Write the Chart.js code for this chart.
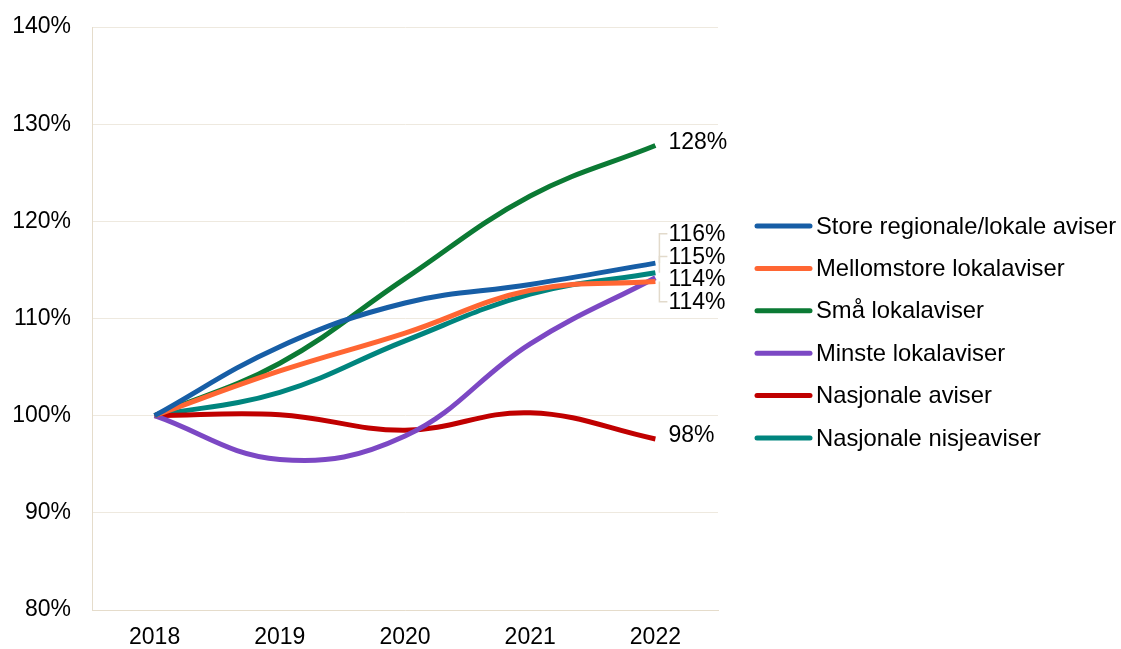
<!DOCTYPE html>
<html>
<head>
<meta charset="utf-8">
<script src="https://cdn.jsdelivr.net/npm/chart.js@4.4.1/dist/chart.umd.min.js"></script>
<style>
  html, body { margin: 0; padding: 0; background: #fff; }
  #wrap { width: 1121px; height: 649px; position: relative; }
</style>
</head>
<body>
<div id="wrap"><canvas id="chart"></canvas></div>
<script>
// data (index, 2018 = 100%)
var years = ["2018", "2019", "2020", "2021", "2022"];
var storeRegionale = [100, 107.1, 111.6, 113.5, 115.7];
var mellomstore = [100, 104.6, 108.5, 112.9, 113.8];
var smaa = [100, 105.4, 114.1, 122.6, 127.8];
var minste = [100, 95.5, 97.9, 107.4, 114.2];
var nasjonale = [100, 100.1, 98.5, 100.3, 97.6];
var nisje = [100, 102.4, 107.7, 112.5, 114.7];
var seriesNames = ["Store regionale/lokale aviser", "Mellomstore lokalaviser", "Små lokalaviser", "Minste lokalaviser", "Nasjonale aviser", "Nasjonale nisjeaviser"];
var colors = ["#175EA6", "#FF6633", "#0B7A34", "#7C48C4", "#C00000", "#00857E"];

var font = "Arial, 'Liberation Sans', sans-serif";
var allSeries = [storeRegionale, mellomstore, smaa, minste, nasjonale, nisje];
var datasets = [];
for (var i = 0; i < allSeries.length; i++) {
  datasets.push({
    label: seriesNames[i],
    data: allSeries[i],
    borderColor: colors[i],
    backgroundColor: colors[i],
    borderWidth: 5,
    pointRadius: 0,
    tension: 0.4,
    fill: false
  });
}

// end labels with leader lines + legend on the right
var extras = {
  id: "extras",
  afterDatasetsDraw: function(chart) {
    var ctx = chart.ctx;
    var items = [];
    chart.data.datasets.forEach(function(ds, i) {
      var meta = chart.getDatasetMeta(i);
      var pt = meta.data[meta.data.length - 1];
      var v = ds.data[ds.data.length - 1];
      items.push({ x: pt.x, y: pt.y, text: Math.round(v) + "%", ly: pt.y - 4 });
    });
    items.sort(function(a, b) { return a.y - b.y; });
    // group labels that sit too close together
    var groups = [];
    items.forEach(function(it) {
      var g = groups[groups.length - 1];
      if (g && it.y - g[g.length - 1].y < 22) g.push(it); else groups.push([it]);
    });
    var gap = 22.7;
    groups.forEach(function(g) {
      if (g.length < 2) return;
      var mean = 0;
      g.forEach(function(it) { mean += it.y; });
      mean = mean / g.length - 6;
      g.forEach(function(it, k) { it.ly = mean + (k - (g.length - 1) / 2) * gap; });
    });
    ctx.save();
    ctx.font = "23px " + font;
    ctx.textBaseline = "middle";
    ctx.textAlign = "left";
    items.forEach(function(it) {
      if (Math.abs(it.ly - it.y) > 4) {
        ctx.strokeStyle = "#E2DACB";
        ctx.lineWidth = 1.5;
        ctx.beginPath();
        ctx.moveTo(it.x + 4, it.y);
        ctx.lineTo(it.x + 4, it.ly);
        ctx.lineTo(it.x + 12, it.ly);
        ctx.stroke();
      }
      ctx.fillStyle = "#000";
      ctx.fillText(it.text, it.x + 13, it.ly + 1);
    });
    // legend
    var lx = 757, ly = 226, step = 42.4;
    ctx.font = "23.8px " + font;
    chart.data.datasets.forEach(function(ds, i) {
      var y = ly + i * step;
      ctx.strokeStyle = ds.borderColor;
      ctx.lineWidth = 5;
      ctx.lineCap = "round";
      ctx.beginPath();
      ctx.moveTo(lx, y);
      ctx.lineTo(lx + 53, y);
      ctx.stroke();
      ctx.fillStyle = "#000";
      ctx.fillText(ds.label, lx + 59, y + 1);
    });
    ctx.restore();
  }
};

new Chart(document.getElementById("chart"), {
  type: "line",
  data: { labels: years, datasets: datasets },
  options: {
    responsive: true,
    maintainAspectRatio: false,
    animation: false,
    layout: { padding: { top: 27, right: 403, bottom: 0, left: 0 } },
    plugins: { legend: { display: false }, tooltip: { enabled: false } },
    scales: {
      x: {
        offset: true,
        grid: { display: false, drawTicks: false },
        border: { color: "#E5DCCB", width: 1 },
        ticks: { color: "#000", font: { size: 23, family: font }, padding: 14 },
        afterFit: function(s) { s.height = 39; s.paddingLeft = 0; s.paddingRight = 0; }
      },
      y: {
        min: 80,
        max: 140,
        grid: { color: "#EEE9DF", drawTicks: false },
        border: { color: "#E5DCCB", width: 1 },
        ticks: {
          stepSize: 10,
          color: "#000",
          font: { size: 23, family: font },
          padding: 21,
          callback: function(v) { return v + "%"; }
        },
        afterFit: function(s) { s.width = 92; s.paddingTop = 0; s.paddingBottom = 0; }
      }
    }
  },
  plugins: [extras]
});
</script>
</body>
</html>
